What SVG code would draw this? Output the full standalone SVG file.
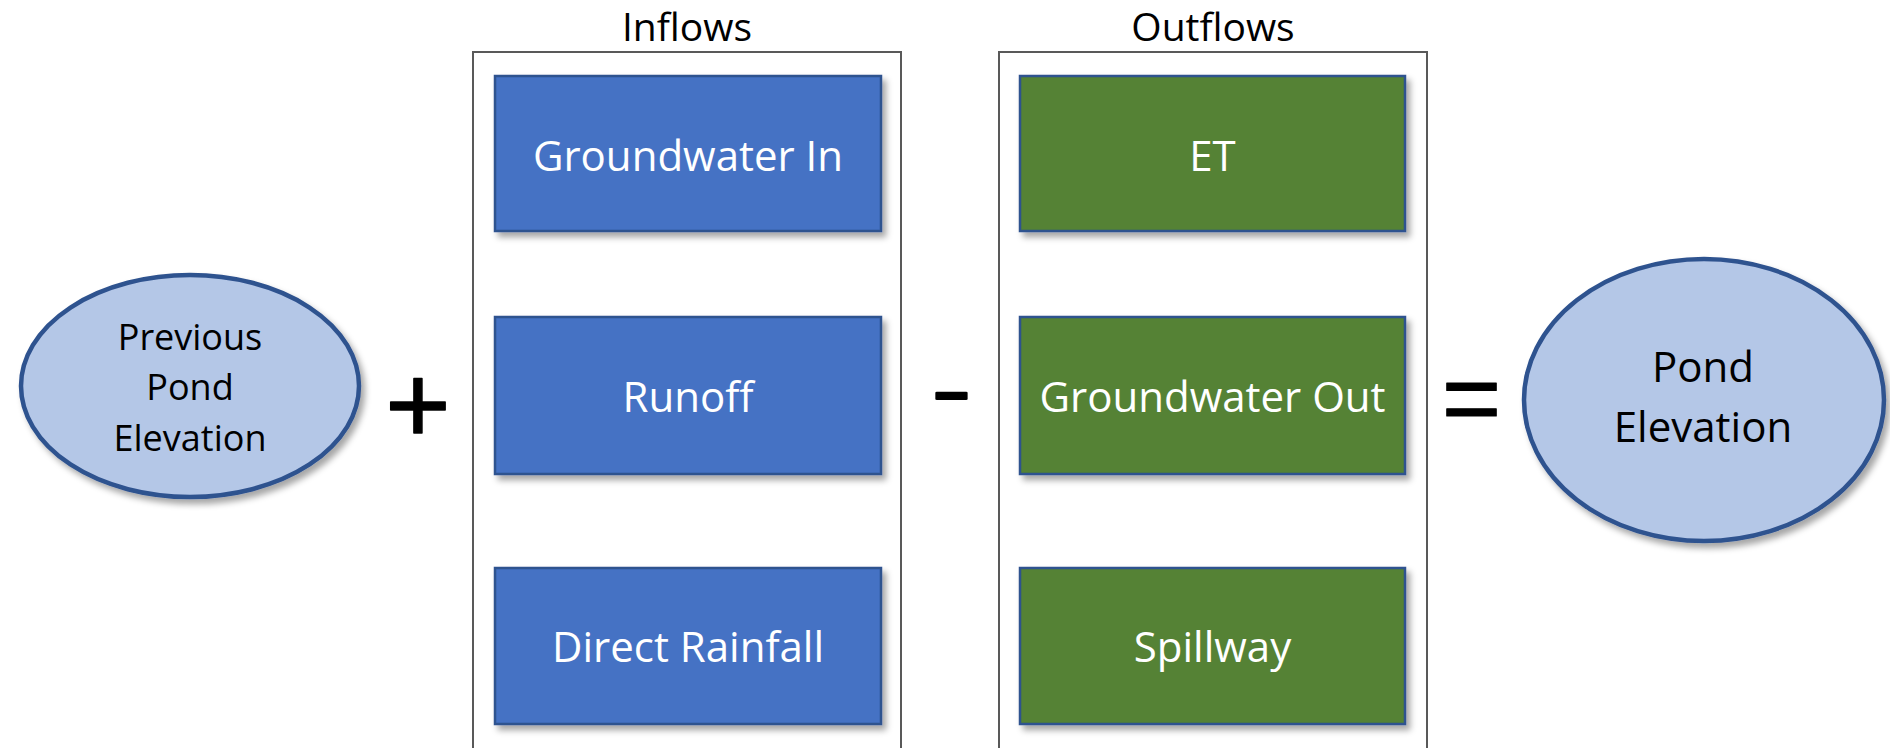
<svg xmlns="http://www.w3.org/2000/svg" width="1890" height="748" viewBox="0 0 1890 748">
  <defs>
    <filter id="shadow" x="-10%" y="-10%" width="130%" height="130%">
      <feDropShadow dx="4" dy="5" stdDeviation="3" flood-color="#000" flood-opacity="0.35"/>
    </filter>
    <style>
      .bg { fill: #ffffff; }
      .panel { fill: none; stroke: #595959; stroke-width: 2; }
      .title { font-family: "Open Sans", "Liberation Sans", sans-serif; font-size: 39px; fill: #000; text-anchor: middle; }
      .inflow { fill: #4472C4; stroke: #2F528F; stroke-width: 2.5; filter: url(#shadow); }
      .outflow { fill: #548235; stroke: #2F528F; stroke-width: 2.5; filter: url(#shadow); }
      .box-label { font-family: "Open Sans", "Liberation Sans", sans-serif; font-size: 42px; fill: #fff; text-anchor: middle; }
      .state { fill: #B4C7E7; stroke: #2F528F; stroke-width: 4.5; filter: url(#shadow); }
      .state-label { font-family: "Open Sans", "Liberation Sans", sans-serif; fill: #000; text-anchor: middle; }
      .op { font-family: "Liberation Sans", Arial, sans-serif; fill: #000; stroke: #000; stroke-linejoin: round; text-anchor: middle; }
    </style>
  </defs>

  <rect class="bg" x="0" y="0" width="1890" height="748"/>

  <!-- Starting state -->
  <g id="previous-elevation">
    <ellipse class="state" cx="190" cy="386" rx="169" ry="111"/>
    <text class="state-label" font-size="36" x="190" y="350">Previous</text>
    <text class="state-label" font-size="36" x="190" y="400">Pond</text>
    <text class="state-label" font-size="36" x="190" y="451">Elevation</text>
  </g>

  <g id="op-plus">
    <text class="op" font-size="112" stroke-width="1.5" x="418" y="443">+</text>
  </g>

  <!-- Inflow terms -->
  <g id="inflows">
    <rect class="panel" x="473" y="52" width="428" height="720"/>
    <text class="title" x="687" y="41">Inflows</text>
  </g>
  <g id="groundwater-in">
    <rect class="inflow" x="495" y="76" width="386" height="155"/>
    <text class="box-label" x="688" y="171">Groundwater In</text>
  </g>
  <g id="runoff">
    <rect class="inflow" x="495" y="317" width="386" height="157"/>
    <text class="box-label" x="688" y="412">Runoff</text>
  </g>
  <g id="direct-rainfall">
    <rect class="inflow" x="495" y="568" width="386" height="156"/>
    <text class="box-label" x="688" y="662">Direct Rainfall</text>
  </g>

  <!-- minus sign: a short hyphen stretched sideways -->
  <g id="op-minus">
    <text class="op" font-size="80" stroke-width="2" transform="translate(951.5,416.5) scale(1.5,1)" x="0" y="0">-</text>
  </g>

  <!-- Outflow terms -->
  <g id="outflows">
    <rect class="panel" x="999" y="52" width="428" height="720"/>
    <text class="title" x="1213" y="41">Outflows</text>
  </g>
  <g id="et">
    <rect class="outflow" x="1020" y="76" width="385" height="155"/>
    <text class="box-label" x="1212.5" y="171">ET</text>
  </g>
  <g id="groundwater-out">
    <rect class="outflow" x="1020" y="317" width="385" height="157"/>
    <text class="box-label" x="1212.5" y="412">Groundwater Out</text>
  </g>
  <g id="spillway">
    <rect class="outflow" x="1020" y="568" width="385" height="156"/>
    <text class="box-label" x="1212.5" y="662">Spillway</text>
  </g>

  <g id="op-equals">
    <text class="op" font-size="102" stroke-width="1" x="1471.5" y="433">=</text>
  </g>

  <!-- Resulting state -->
  <g id="pond-elevation">
    <ellipse class="state" cx="1704" cy="400" rx="180" ry="141"/>
    <text class="state-label" font-size="42" x="1703" y="382">Pond</text>
    <text class="state-label" font-size="42" x="1703" y="442">Elevation</text>
  </g>
</svg>
